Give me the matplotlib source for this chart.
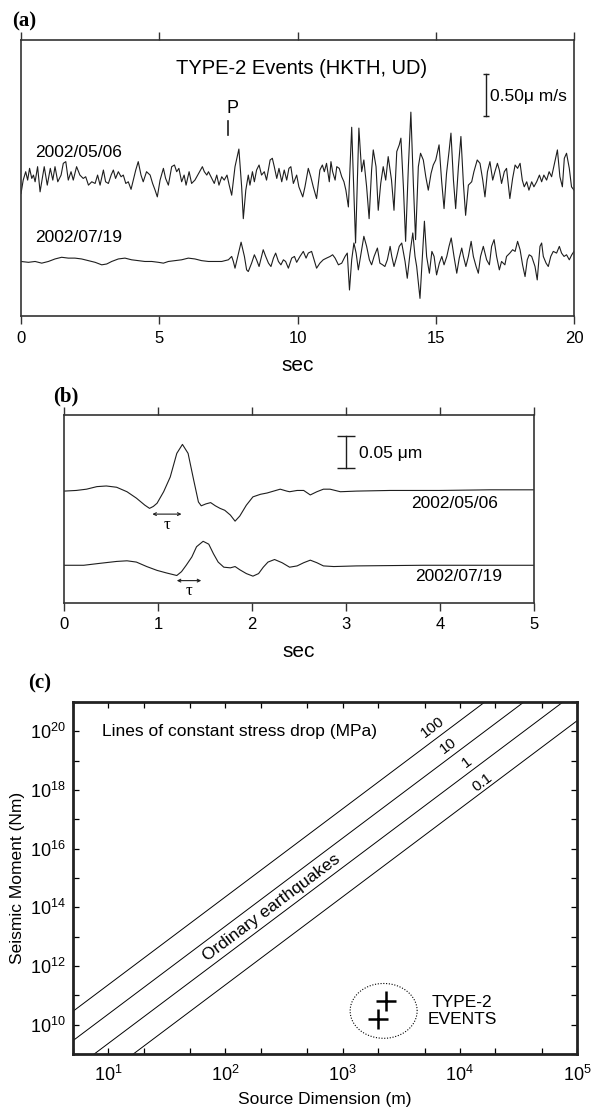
import numpy as np
import matplotlib
matplotlib.use('Agg')
import matplotlib.pyplot as plt
from matplotlib.ticker import FixedLocator, NullFormatter, LogFormatterMathtext

plt.rcParams['font.family'] = ['Liberation Sans', 'DejaVu Sans']
plt.rcParams['mathtext.fontset'] = 'custom'
plt.rcParams['mathtext.rm'] = 'Liberation Sans'

# ---- (a) velocity seismograms, HKTH UD (time in s, amplitude in um/s) ----
a_t1 = [0.0, 0.08, 0.17, 0.24, 0.31, 0.39, 0.45, 0.51, 0.60, 0.69, 0.84, 0.95, 1.06, 1.15, 1.23, 1.33,
        1.45, 1.53, 1.62, 1.71, 1.81, 1.89, 2.01, 2.13, 2.25, 2.34, 2.44, 2.56, 2.68, 2.77, 2.86, 2.98,
        3.06, 3.16, 3.26, 3.34, 3.42, 3.52, 3.62, 3.70, 3.79, 3.88, 3.98, 4.06, 4.15, 4.24, 4.34, 4.42,
        4.54, 4.67, 4.76, 4.85, 4.93, 5.03, 5.15, 5.23, 5.33, 5.45, 5.55, 5.63, 5.71, 5.81, 5.90, 5.97,
        6.08, 6.17, 6.29, 6.39, 6.49, 6.56, 6.63, 6.72, 6.78, 6.90, 6.99, 7.08, 7.16, 7.26, 7.35, 7.45,
        7.53, 7.62, 7.74, 7.88, 7.98, 8.04, 8.13, 8.22, 8.28, 8.37, 8.44, 8.52, 8.61, 8.70, 8.80, 8.88,
        9.01, 9.09, 9.16, 9.25, 9.33, 9.43, 9.52, 9.61, 9.69, 9.76, 9.85, 9.97, 10.05,
        10.19, 10.27, 10.39, 10.48, 10.57, 10.69, 10.81, 10.90, 10.97, 11.05, 11.15, 11.21, 11.27, 11.36,
        11.42, 11.51, 11.60, 11.68, 11.75, 11.84, 11.96, 12.10, 12.22, 12.32, 12.40, 12.50, 12.59, 12.68,
        12.74, 12.84, 12.92, 13.01, 13.10, 13.19, 13.28, 13.40, 13.49, 13.59, 13.68, 13.74, 13.83, 13.91,
        14.01, 14.10, 14.19, 14.27, 14.37, 14.45, 14.55, 14.64, 14.73, 14.83, 14.91, 15.00, 15.12, 15.21,
        15.30, 15.39, 15.48, 15.55, 15.64, 15.72, 15.82, 15.91, 16.00, 16.08, 16.18, 16.30, 16.38, 16.50,
        16.60, 16.70, 16.78, 16.87, 16.96, 17.06, 17.14, 17.23, 17.30, 17.38, 17.48, 17.56, 17.68, 17.78,
        17.87, 17.96, 18.05, 18.13, 18.20, 18.29, 18.37, 18.47, 18.55, 18.65, 18.75, 18.83, 18.91, 19.01,
        19.10, 19.19, 19.31, 19.40, 19.49, 19.58, 19.65, 19.73, 19.83, 19.91, 20.0]
a_v1 = [-0.16, 0.0, 0.10, 0.0, 0.14, 0.02, 0.06, -0.02, 0.16, -0.14, 0.16, -0.06, 0.14, 0.0, 0.16, -0.02,
        0.06, 0.20, 0.22, 0.0, 0.10, 0.0, 0.16, 0.06, 0.02, 0.04, -0.06, -0.02, -0.04, 0.06, -0.06, 0.12,
        -0.02, -0.04, 0.06, 0.12, 0.02, 0.10, 0.04, 0.06, -0.04, -0.02, -0.11, 0.0, 0.12, 0.22, 0.06, -0.02,
        0.10, 0.06, -0.04, -0.12, -0.20, 0.0, 0.14, 0.02, -0.06, 0.16, 0.18, 0.10, 0.14, -0.02, 0.06, -0.06,
        0.10, -0.04, 0.0, 0.06, 0.12, 0.16, 0.10, 0.06, 0.10, 0.02, -0.04, 0.06, -0.06, 0.04, 0.0, 0.06,
        -0.06, -0.18, 0.16, 0.37, -0.08, -0.46, -0.12, 0.06, -0.06, 0.10, -0.02, 0.12, 0.18, 0.06, 0.10, 0.0,
        0.24, 0.26, 0.16, 0.02, 0.14, -0.02, 0.12, 0.0, 0.14, 0.16, -0.04, 0.06, -0.08,
        -0.20, -0.08, 0.14, 0.04, -0.08, -0.22, 0.12, 0.18, 0.10, 0.20, -0.02, 0.22, 0.10, 0.0,
        0.16, 0.14, 0.04, -0.02, -0.12, -0.32, 0.63, -0.75, 0.62, 0.10, 0.24, -0.08, -0.46, 0.12,
        0.36, 0.16, -0.36, -0.04, 0.16, 0.0, 0.28, 0.0, -0.36, 0.34, 0.42, 0.50, -0.08, -0.73,
        0.16, 0.81, -0.04, -0.71, 0.16, 0.32, 0.24, 0.04, -0.12, 0.08, 0.18, 0.24, 0.42, 0.0,
        -0.34, 0.08, 0.34, 0.56, 0.0, -0.34, 0.16, 0.52, -0.04, -0.42, -0.06, -0.02, 0.10, 0.24,
        0.20, 0.0, -0.20, 0.10, 0.22, 0.0, 0.10, 0.20, 0.12, -0.04, 0.10, 0.14, -0.22, 0.02,
        0.18, 0.14, 0.20, 0.0, -0.08, -0.02, -0.12, -0.02, -0.08, -0.02, 0.06, -0.02, 0.06, 0.0,
        0.10, 0.04, 0.22, 0.36, 0.04, -0.08, 0.26, 0.32, 0.14, -0.08, -0.12]

a_t2 = [0.0, 0.27, 0.51, 0.75, 0.99, 1.23, 1.47, 1.71, 1.95, 2.19, 2.44, 2.68, 2.92, 3.10, 3.28, 3.52,
        3.76, 4.00, 4.24, 4.48, 4.73, 4.97, 5.15, 5.33, 5.57, 5.81, 6.05, 6.29, 6.53, 6.78, 7.02, 7.26,
        7.50, 7.62, 7.68, 7.74, 7.84, 7.96, 8.08, 8.16, 8.22, 8.34, 8.44, 8.52, 8.61, 8.70, 8.76, 8.85,
        8.95, 9.04, 9.13, 9.21, 9.31, 9.40, 9.49, 9.57, 9.67, 9.79, 9.89, 9.97, 10.09, 10.21,
        10.31, 10.39, 10.51, 10.60, 10.69, 10.81, 10.93, 11.05, 11.18, 11.27, 11.36, 11.48, 11.60, 11.72,
        11.80, 11.88, 11.96, 12.04, 12.12, 12.20, 12.28, 12.40, 12.50, 12.60, 12.68, 12.77, 12.89, 12.98,
        13.08, 13.16, 13.25, 13.35, 13.41, 13.49, 13.59, 13.68, 13.77, 13.89, 13.97, 14.07, 14.17, 14.25,
        14.31, 14.43, 14.51, 14.59, 14.67, 14.77, 14.86, 14.94, 15.03, 15.13, 15.22, 15.30, 15.40, 15.48,
        15.56, 15.66, 15.76, 15.85, 15.94, 16.00, 16.09, 16.18, 16.28, 16.36, 16.46, 16.54, 16.62, 16.72,
        16.84, 16.94, 17.02, 17.11, 17.20, 17.30, 17.38, 17.50, 17.56, 17.68, 17.78, 17.87, 17.96, 18.05,
        18.14, 18.23, 18.31, 18.38, 18.47, 18.59, 18.67, 18.77, 18.83, 18.89, 18.99, 19.07, 19.16, 19.25,
        19.37, 19.47, 19.55, 19.64, 19.73, 19.83, 19.92, 20.0]
a_v2 = [0.0, -0.01, 0.0, -0.02, 0.0, 0.03, 0.05, 0.04, 0.04, 0.03, 0.01, -0.01, -0.04, -0.03, 0.0, 0.03,
        0.04, 0.02, 0.01, 0.0, 0.0, -0.01, -0.02, 0.0, 0.01, 0.02, 0.04, 0.03, 0.01, 0.0, 0.0, 0.0,
        0.02, 0.06, 0.0, -0.08, 0.06, 0.23, 0.06, -0.10, -0.12, -0.02, 0.08, 0.02, -0.06, 0.06, 0.14, 0.06,
        -0.02, -0.06, 0.04, 0.10, 0.0, -0.04, 0.02, 0.0, -0.08, 0.04, 0.06, -0.01, 0.06, 0.12,
        0.04, 0.10, 0.12, 0.02, -0.08, -0.02, 0.02, 0.04, 0.06, 0.08, 0.04, -0.04, -0.02, 0.06,
        0.10, -0.34, 0.02, 0.22, 0.10, -0.10, 0.06, 0.30, 0.18, 0.02, -0.04, 0.06, 0.16, -0.02,
        -0.04, -0.06, 0.02, 0.18, 0.06, -0.06, 0.06, 0.18, 0.22, 0.0, -0.20, 0.10, 0.34, 0.06,
        -0.06, -0.44, 0.02, 0.48, 0.06, -0.14, 0.12, 0.06, -0.16, -0.02, 0.06, -0.04, 0.06, 0.18,
        0.28, 0.06, -0.14, 0.04, 0.16, 0.06, -0.06, 0.06, 0.24, 0.06, -0.06, -0.14, 0.06, 0.18,
        0.02, -0.04, 0.18, 0.26, 0.06, -0.10, 0.0, -0.04, 0.06, 0.10, 0.14, 0.12, 0.24, 0.14,
        -0.04, -0.18, 0.02, 0.08, 0.06, -0.06, -0.22, 0.18, 0.22, 0.06, -0.02, -0.06, 0.06, 0.12,
        0.10, 0.18, 0.10, 0.06, 0.08, 0.02, 0.08, 0.12]
a_offset2 = -0.97

# ---- (b) displacement pulses (time in s, amplitude in um) ----
b_t1 = [0.0, 0.13, 0.24, 0.35, 0.45, 0.56, 0.67, 0.77, 0.86, 0.91, 0.95, 0.99, 1.06, 1.13, 1.20, 1.26,
        1.32, 1.38, 1.43, 1.46, 1.51, 1.56, 1.61, 1.66, 1.71, 1.77, 1.82, 1.87, 1.94, 2.01, 2.09, 2.16,
        2.23, 2.30, 2.37, 2.40, 2.48, 2.55, 2.62, 2.69, 2.76, 2.83, 2.94, 3.11, 3.47, 4.00, 4.53, 5.0]
b_v1 = [0.0, 0.001, 0.003, 0.007, 0.008, 0.006, -0.001, -0.011, -0.022, -0.027, -0.024, -0.019, -0.001,
        0.022, 0.059, 0.073, 0.059, 0.017, -0.017, -0.023, -0.020, -0.018, -0.023, -0.027, -0.030, -0.0375,
        -0.047, -0.039, -0.022, -0.009, -0.005, -0.003, 0.0, 0.003, 0.0, -0.001, 0.001, 0.001, -0.006, -0.001,
        0.003, 0.003, -0.001, 0.0, 0.001, 0.001, 0.002, 0.002]
b_t2 = [0.0, 0.21, 0.38, 0.56, 0.67, 0.77, 0.88, 0.99, 1.09, 1.20, 1.25, 1.30, 1.36, 1.41, 1.48, 1.54,
        1.59, 1.64, 1.70, 1.77, 1.82, 1.87, 1.94, 2.01, 2.07, 2.12, 2.17, 2.24, 2.32, 2.40, 2.48, 2.55,
        2.62, 2.69, 2.76, 2.87, 3.11, 3.82, 5.0]
b_v2 = [0.0, 0.0, 0.003, 0.006, 0.007, 0.005, -0.002, -0.008, -0.012, -0.016, -0.010, 0.0, 0.013, 0.029,
        0.0375, 0.033, 0.018, 0.005, -0.003, -0.004, -0.002, -0.007, -0.013, -0.017, -0.013, -0.003, 0.005,
        0.009, 0.004, -0.003, -0.001, 0.004, 0.008, 0.004, -0.001, -0.002, -0.001, 0.0, 0.0]
b_offset2 = -0.116
tau_1 = (0.94, 1.25)
tau_2 = (1.20, 1.46)

# ---- (c) moment vs source dimension ----
stress_drops = [100, 10, 1, 0.1]          # MPa
stress_labels = ['100', '10', '1', '0.1']
label_pos_r = [5900, 7950, 11500, 15500]  # m
label_pos_m = [1.35e20, 3.2e19, 8.7e18, 1.8e18]
line_r = np.array([1.0, 1e6])
type2_r = [2330, 2000]
type2_m = [6.4e10, 1.6e10]

fig = plt.figure(figsize=(5.91, 11.08), dpi=100)
spine_col = '#333333'
trace_col = '#1e1e1e'

# ================= (a) =================
axa = fig.add_axes([21/591, 1 - 316/1108, 553/591, 276/1108])
axa.plot(a_t1, a_v1, color=trace_col, lw=0.8)
axa.plot(a_t2, np.array(a_v2) + a_offset2, color=trace_col, lw=0.8)
axa.set_xlim(0, 20)
axa.set_ylim(-1.62, 1.67)
axa.set_yticks([])
axa.set_xticks([0, 5, 10, 15, 20])
axa.tick_params(axis='x', direction='out', top=True, length=5.5, width=1, pad=5,
                labelsize=12, color=spine_col)
for s in axa.spines.values():
    s.set_linewidth(1.2)
    s.set_color(spine_col)
axa.set_xlabel('sec', fontsize=15, labelpad=7.5)
axa.text(10.13, 1.33, 'TYPE-2 Events (HKTH, UD)', ha='center', va='center', fontsize=14.5)
axa.plot([16.8, 16.8], [0.76, 1.26], color=trace_col, lw=1, marker='_', ms=5, mew=1)
axa.text(16.96, 1.0, '0.50\u03bc m/s', ha='left', va='center', fontsize=12.5)
axa.plot([7.49, 7.49], [0.54, 0.70], color=trace_col, lw=1.2)
axa.text(7.45, 0.75, 'P', ha='left', va='bottom', fontsize=13)
axa.text(0.51, 0.33, '2002/05/06', ha='left', va='center', fontsize=12.5)
axa.text(0.51, -0.69, '2002/07/19', ha='left', va='center', fontsize=12.5)
fig.text(12/591, 1 - 21/1108, '(a)', fontfamily='Liberation Serif', fontweight='bold',
         fontsize=15, ha='left', va='center')

# ================= (b) =================
axb = fig.add_axes([64/591, 1 - 603/1108, 470/591, 188/1108])
axb.plot(b_t1, b_v1, color=trace_col, lw=0.8)
axb.plot(b_t2, np.array(b_v2) + b_offset2, color=trace_col, lw=0.8)
axb.set_xlim(0, 5)
axb.set_ylim(-0.175, 0.119)
axb.set_yticks([])
axb.set_xticks([0, 1, 2, 3, 4, 5])
axb.tick_params(axis='x', direction='out', top=True, length=5.5, width=1, pad=4.5,
                labelsize=12, color=spine_col)
for s in axb.spines.values():
    s.set_linewidth(1.2)
    s.set_color(spine_col)
axb.set_xlabel('sec', fontsize=15, labelpad=7)
axb.plot([3.0, 3.0], [0.036, 0.086], color=trace_col, lw=1, marker='_', ms=13, mew=1)
axb.text(3.14, 0.059, '0.05 \u03bcm', ha='left', va='center', fontsize=12.5)
axb.text(4.62, -0.019, '2002/05/06', ha='right', va='center', fontsize=12.5)
axb.text(4.66, -0.133, '2002/07/19', ha='right', va='center', fontsize=12.5)
for (t0, t1), yy, ty in [(tau_1, -0.036, -0.053), (tau_2, -0.140, -0.156)]:
    axb.annotate('', xy=(t1, yy), xytext=(t0, yy),
                 arrowprops=dict(arrowstyle='<->', lw=0.8, color=trace_col,
                                 shrinkA=0, shrinkB=0, mutation_scale=5))
    axb.text((t0 + t1) / 2, ty, '\u03c4', ha='center', va='center', fontsize=12,
             fontfamily='Liberation Serif')
fig.text(53/591, 1 - 396/1108, '(b)', fontfamily='Liberation Serif', fontweight='bold',
         fontsize=15, ha='left', va='center')

# ================= (c) =================
axc = fig.add_axes([73/591, 1 - 1054/1108, 504/591, 352/1108])
axc.set_xscale('log')
axc.set_yscale('log')
axc.set_xlim(5, 1e5)
axc.set_ylim(1e9, 1e21)
for ds in stress_drops:
    # circular crack: M0 = 16/7 * stress drop * r^3
    axc.plot(line_r, 16.0 / 7.0 * ds * 1e6 * line_r ** 3, color='black', lw=0.7)
fig.canvas.draw()
p0 = axc.transData.transform((100, 16 / 7 * 1e6 * 100 ** 3))
p1 = axc.transData.transform((1000, 16 / 7 * 1e6 * 1000 ** 3))
ang = np.degrees(np.arctan2(p1[1] - p0[1], p1[0] - p0[0]))
for lab, r, m in zip(stress_labels, label_pos_r, label_pos_m):
    axc.text(r, m, lab, rotation=ang, ha='center', va='center', fontsize=11,
             rotation_mode='anchor')
axc.text(245, 1e14, 'Ordinary earthquakes', rotation=ang, ha='center', va='center',
         fontsize=12.5, rotation_mode='anchor')
axc.text(8.9, 1e20, 'Lines of constant stress drop (MPa)', ha='left', va='center', fontsize=12.5)
axc.plot(type2_r, type2_m, linestyle='none', marker='+', ms=14, mew=1.8, color='black')
th = np.linspace(0, 2 * np.pi, 200)
axc.plot(10 ** (3.35 + 0.286 * np.cos(th)), 10 ** (10.47 + 0.935 * np.sin(th)),
         color='black', lw=0.8, linestyle=(0, (1, 1.5)))
axc.text(1.05e4, 2.9e10, 'TYPE-2\nEVENTS', ha='center', va='center', fontsize=12.5,
         linespacing=1.15)

axc.xaxis.set_major_locator(FixedLocator([1e1, 1e2, 1e3, 1e4, 1e5]))
axc.xaxis.set_minor_locator(FixedLocator([m * 10 ** e for e in range(0, 5) for m in (2, 5)]))
axc.xaxis.set_major_formatter(LogFormatterMathtext())
axc.xaxis.set_minor_formatter(NullFormatter())
axc.yaxis.set_major_locator(FixedLocator([10.0 ** e for e in range(10, 21, 2)]))
axc.yaxis.set_minor_locator(FixedLocator([10.0 ** e for e in range(9, 22, 2)]))
axc.yaxis.set_major_formatter(LogFormatterMathtext())
axc.yaxis.set_minor_formatter(NullFormatter())
axc.tick_params(which='both', direction='in', top=True, right=True, length=4, width=0.9,
                labelsize=13, pad=5)
axc.tick_params(axis='x', pad=8)
for s in axc.spines.values():
    s.set_linewidth(2.0)
    s.set_color('#222222')
axc.set_xlabel('Source Dimension (m)', fontsize=12.5, labelpad=5)
axc.set_ylabel('Seismic Moment (Nm)', fontsize=12.5, labelpad=4)
fig.text(28/591, 1 - 683/1108, '(c)', fontfamily='Liberation Serif', fontweight='bold',
         fontsize=15, ha='left', va='center')

fig.savefig('out.png', dpi=100)
